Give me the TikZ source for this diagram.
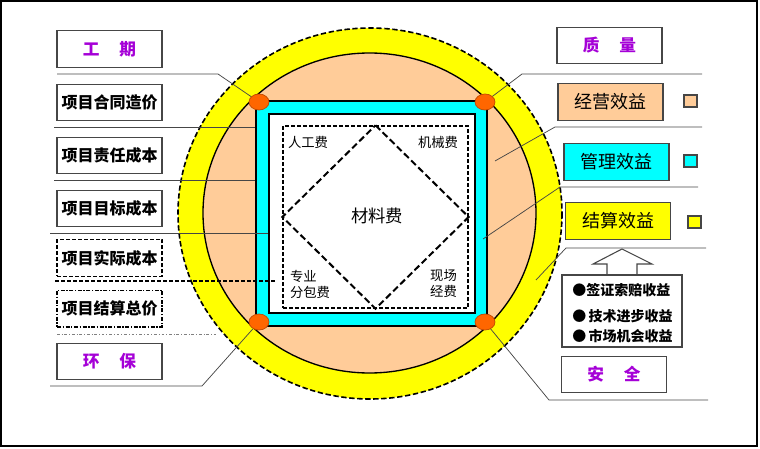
\documentclass[tikz,border=0pt]{standalone}
\usepackage{fontspec}
\setmainfont{Noto Sans CJK SC}
\usepackage{tikz}
\usetikzlibrary{shapes.geometric}

\definecolor{peach}{RGB}{255,204,153}
\definecolor{aqua}{RGB}{0,255,255}
\definecolor{lemon}{RGB}{255,255,0}
\definecolor{dotorange}{RGB}{255,102,0}
\definecolor{dotedge}{RGB}{190,70,0}
\definecolor{labelpurple}{RGB}{165,0,215}
\definecolor{boxgray}{RGB}{70,70,70}

\tikzset{
  costbox/.style={draw=boxgray, line width=0.9pt, fill=white, minimum width=78.75pt,
    minimum height=27.5pt, inner sep=0pt, font=\bfseries\fontsize{12}{14}\selectfont},
  aspectbox/.style={costbox, text=labelpurple, font=\bfseries\fontsize{12.5}{14}\selectfont},
  benefitbox/.style={draw=boxgray, line width=0.9pt, minimum width=78.75pt,
    minimum height=28pt, inner sep=0pt, font=\fontsize{13.5}{16}\selectfont},
  keysq/.style={draw=boxgray, line width=0.8pt, minimum width=9.75pt, minimum height=9pt, inner sep=0pt},
  cornerdot/.style={ellipse, draw=dotedge, line width=0.5pt, fill=dotorange,
    minimum width=15pt, minimum height=12pt, inner sep=0pt},
  leader/.style={draw=boxgray, line width=0.55pt},
  costlabel/.style={inner sep=0pt, font=\fontsize{10}{12}\selectfont},
  gainlabel/.style={anchor=west, inner sep=0pt, font=\bfseries\fontsize{10.5}{12}\selectfont},
}

\begin{document}
\begin{tikzpicture}[x=0.75pt,y=0.75pt,yscale=-1,xscale=1]
\useasboundingbox (0,0) rectangle (760,449);

%Shape: Frame
\draw [line width=1.5pt] (1,1) rectangle (757,446);

%Shape: Ellipse (outer ring)
\draw [fill=lemon, line width=1.2pt, dash pattern=on 4pt off 2pt] (370,213.5) ellipse [x radius=192, y radius=185.5];
%Shape: Ellipse (inner disc)
\draw [fill=peach, line width=1pt] (369.5,213) ellipse [x radius=166.5, y radius=160];

%Shape: Square frames
\node (sqo) [draw, line width=1pt, fill=aqua, minimum width=173.25pt, minimum height=168.75pt, inner sep=0pt] at (371.5,213.5) {};
\node (sqi) [draw, line width=1pt, fill=white, minimum width=154.5pt, minimum height=149.25pt, inner sep=0pt] at (372,213.5) {};
\node (drect) [draw, line width=1pt, dash pattern=on 3pt off 1.5pt, minimum width=138.75pt, minimum height=136.5pt, inner sep=0pt] at (375.5,217) {};
%Shape: Diamond
\draw [line width=1.5pt, dash pattern=on 5pt off 2.5pt] (drect.north) -- (drect.east) -- (drect.south) -- (drect.west) -- cycle;

% Corner dots
\node (dtl) [cornerdot] at (259,102) {};
\node (dtr) [cornerdot] at (485,102) {};
\node (dbl) [cornerdot] at (259,322) {};
\node (dbr) [cornerdot] at (485,322) {};

% Free ends of the lines
\coordinate (l1) at (57,74);   \coordinate (l1k) at (218,74);
\coordinate (l2) at (54,127);
\coordinate (l3) at (54,180);
\coordinate (l4) at (50,233);
\coordinate (l5) at (55,281);  \coordinate (l5e) at (277,281);
\coordinate (l6) at (57,334);  \coordinate (l6e) at (217,334);
\coordinate (l7) at (50,386);  \coordinate (l7k) at (202,386);
\coordinate (r1) at (702,74);  \coordinate (r1k) at (522,74);
\coordinate (r2) at (702,127); \coordinate (r2k) at (555,127); \coordinate (r2e) at (495,161);
\coordinate (r3) at (698,187); \coordinate (r3k) at (560,187); \coordinate (r3e) at (483,239);
\coordinate (r4) at (706,248); \coordinate (r4k) at (566,248); \coordinate (r4e) at (536,280);
\coordinate (r5) at (708,400); \coordinate (r5k) at (549,400);

%Straight Lines
\draw [leader] (l1) -- (l1k) -- (dtl);
\draw [leader] (l2) -- (l2 -| sqo.west);
\draw [leader] (l3) -- (l3 -| sqo.west);
\draw [leader] (l4) -- (l4 -| sqi.west);
\draw [line width=1pt, dash pattern=on 3pt off 1.5pt] (l5) -- (l5e);
\draw [draw=gray, line width=0.6pt, dash pattern=on 2pt off 1.5pt on 0.6pt off 1.5pt] (l6) -- (l6e);
\draw [leader] (l7) -- (l7k) -- (dbl);
\draw [leader] (r1) -- (r1k) -- (dtr);
\draw [leader] (r2) -- (r2k) -- (r2e);
\draw [leader] (r3) -- (r3k) -- (r3e);
\draw [leader] (r4) -- (r4k) -- (r4e);
\draw [leader] (r5) -- (r5k) -- (dbr);

% Text Node
\node (rgf) [costlabel] at (308,142) {人工费};
\node (jxf) [costlabel] at (438,142) {机械费};
\node (clf) [costlabel, font=\fontsize{13}{15}\selectfont] at (377,216) {材料费};
\node (fbf) [costlabel, align=left] at (310,284) {专业\\分包费};
\node (xcf) [costlabel, align=center] at (443.5,284) {现场\\经费};

% Left boxes
\node (gq) [aspectbox] at (109.5,49) {工\hspace{1.2em}期};
\node (htzj) [costbox] at (109.5,102.5) {项目合同造价};
\node (zrcb) [costbox] at (109.5,155.5) {项目责任成本};
\node (mbcb) [costbox] at (109.5,208.5) {项目目标成本};
\node (sjcb) [costbox, draw=black, line width=1pt, dash pattern=on 3pt off 1.5pt] at (109.5,258) {项目实际成本};
\node (jszj) [costbox, draw=black, line width=1pt, dash pattern=on 3pt off 1.2pt on 1pt off 1.2pt] at (109.5,308.5) {项目结算总价};
\node (hb) [aspectbox] at (109.5,361.5) {环\hspace{1.2em}保};

% Right boxes
\node (zl) [aspectbox] at (609.5,45.5) {质\hspace{1.2em}量};
\node (jyxy) [benefitbox, fill=peach] at (610.5,102) {经营效益};
\node (glxy) [benefitbox, fill=aqua] at (616.5,162) {管理效益};
\node (jsxy) [benefitbox, fill=lemon] at (618,221) {结算效益};
\node (kjy) [keysq, fill=peach] at (690.5,101) {};
\node (kgl) [keysq, fill=aqua] at (690.5,161) {};
\node (kjs) [keysq, fill=lemon] at (694.5,222) {};

%Shape: Block arrow
\draw [draw=boxgray, line width=0.8pt, fill=white] (622,249) -- (652,264) -- (637,264) -- (637,275.5) -- (607,275.5) -- (607,264) -- (593,264) -- cycle;
\node (gains) [draw=boxgray, line width=0.9pt, fill=white, minimum width=90pt, minimum height=54pt, inner sep=0pt] at (622,311) {};
\node (g1) [gainlabel] at (572,290) {●签证索赔收益};
\node (g2) [gainlabel] at (572,316) {●\,技术进步收益};
\node (g3) [gainlabel] at (572,336) {●\,市场机会收益};
\node (aq) [aspectbox] at (614,374.5) {安\hspace{1.2em}全};

\end{tikzpicture}
\end{document}
